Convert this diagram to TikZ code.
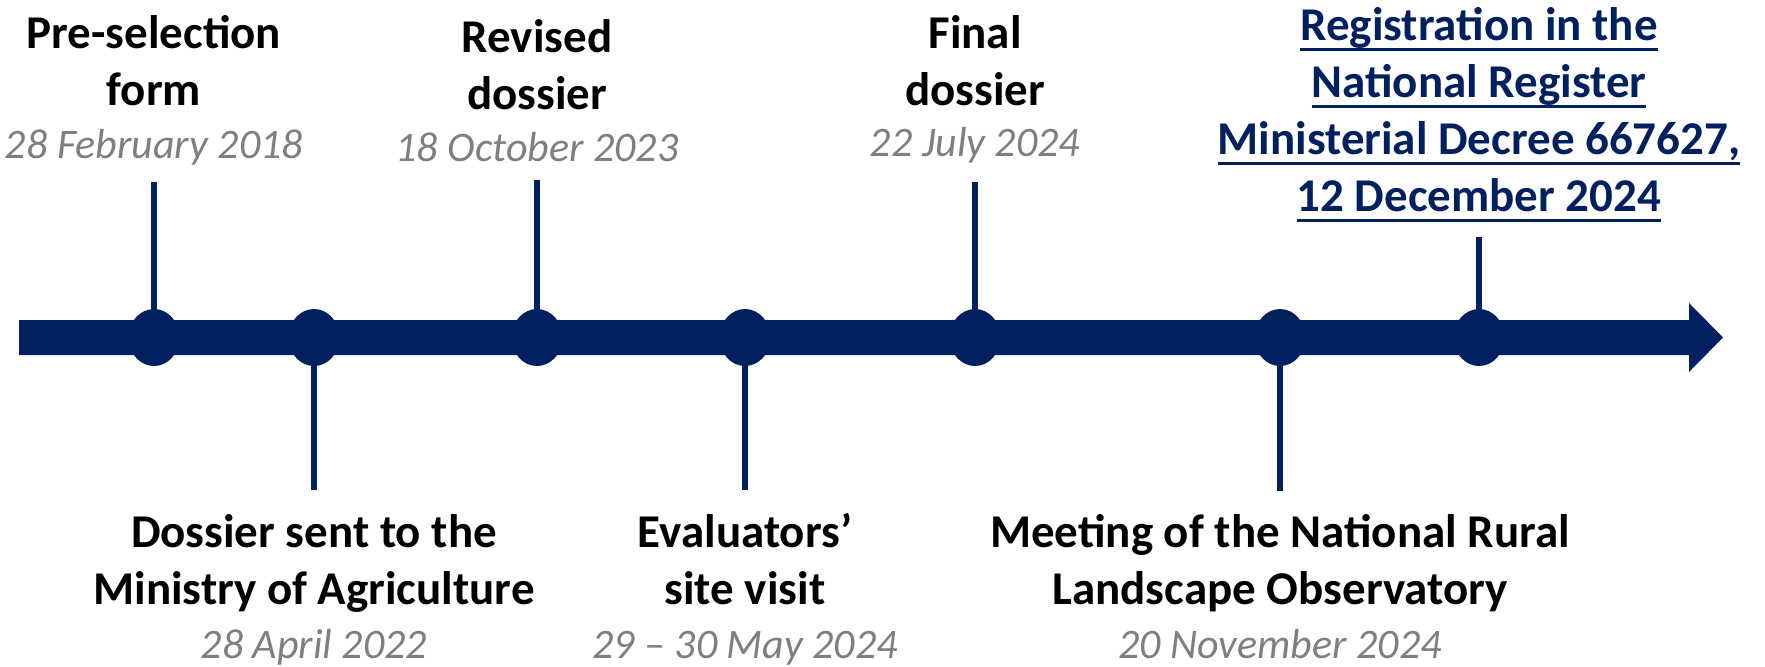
\documentclass[tikz,border=0pt]{standalone}
\usepackage{fontspec}
\setmainfont{Carlito}
\usetikzlibrary{shapes.geometric}
\definecolor{navy}{HTML}{002060}
\definecolor{dategray}{HTML}{7F7F7F}
\newsavebox{\regbox}
\newcommand{\regline}[1]{\sbox{\regbox}{#1}\rlap{\rule[-0.24em]{\wd\regbox}{1.4pt}}\usebox{\regbox}}
\tikzset{
  dot/.style={ellipse,fill=navy,inner sep=0pt,minimum width=25.5pt,minimum height=28.5pt},
  stem/.style={draw=navy,line width=2.6pt},
  title/.style={font=\bfseries\fontsize{23.5}{28.5}\selectfont,align=center,anchor=base,inner sep=0pt},
  date/.style={font=\itshape\fontsize{21}{25}\selectfont,text=dategray,anchor=base,inner sep=0pt},
}
\begin{document}
\begin{tikzpicture}[x=0.5pt,y=-0.5pt]
  \useasboundingbox (0,0) rectangle (1765,666);
  % time axis
  \fill[navy] (19,320) -- (1689,320) -- (1689,303) -- (1723,337.5) -- (1689,372) -- (1689,355) -- (19,355) -- cycle;
  % top stems
  \coordinate (t1) at (154,182);
  \coordinate (t3) at (537,180);
  \coordinate (t5) at (975,182);
  \coordinate (t7) at (1479,237);
  % bottom stems
  \coordinate (b2) at (314,490);
  \coordinate (b4) at (745,490);
  \coordinate (b6) at (1280,491);
  \foreach \i/\x in {1/154,2/314,3/537,4/745,5/975,6/1280,7/1479}
    \coordinate (c\i) at (\x,337.5);
  \foreach \i in {1,3,5,7}
    \draw[stem] (t\i) -- (c\i);
  \foreach \i in {2,4,6}
    \draw[stem] (c\i) -- (b\i);
  \foreach \i in {1,...,7}
    \node[dot] (d\i) at (c\i) {};
  % labels above (anchor = base of last line)
  \node[title] (l1) at (154,105) {Pre-selection\\form};
  \node[date] (w1) at (154,158) {28 February 2018};
  \node[title] (l3) at (537,109) {Revised\\dossier};
  \node[date] (w3) at (537,161) {18 October 2023};
  \node[title] (l5) at (975,105) {Final\\dossier};
  \node[date] (w5) at (975,156) {22 July 2024};
  \node[title,text=navy] (l7) at (1479,211) {\regline{Registration in the}\\\regline{National Register}\\\regline{Ministerial Decree 667627,}\\\regline{12 December 2024}};
  % labels below
  \node[title] (l2) at (314,604) {Dossier sent to the\\Ministry of Agriculture};
  \node[date] (w2) at (314,658) {28 April 2022};
  \node[title] (l4) at (745,604) {Evaluators’\\site visit};
  \node[date] (w4) at (745,658) {29 – 30 May 2024};
  \node[title] (l6) at (1280,604) {Meeting of the National Rural\\Landscape Observatory};
  \node[date] (w6) at (1280,658) {20 November 2024};
\end{tikzpicture}
\end{document}
